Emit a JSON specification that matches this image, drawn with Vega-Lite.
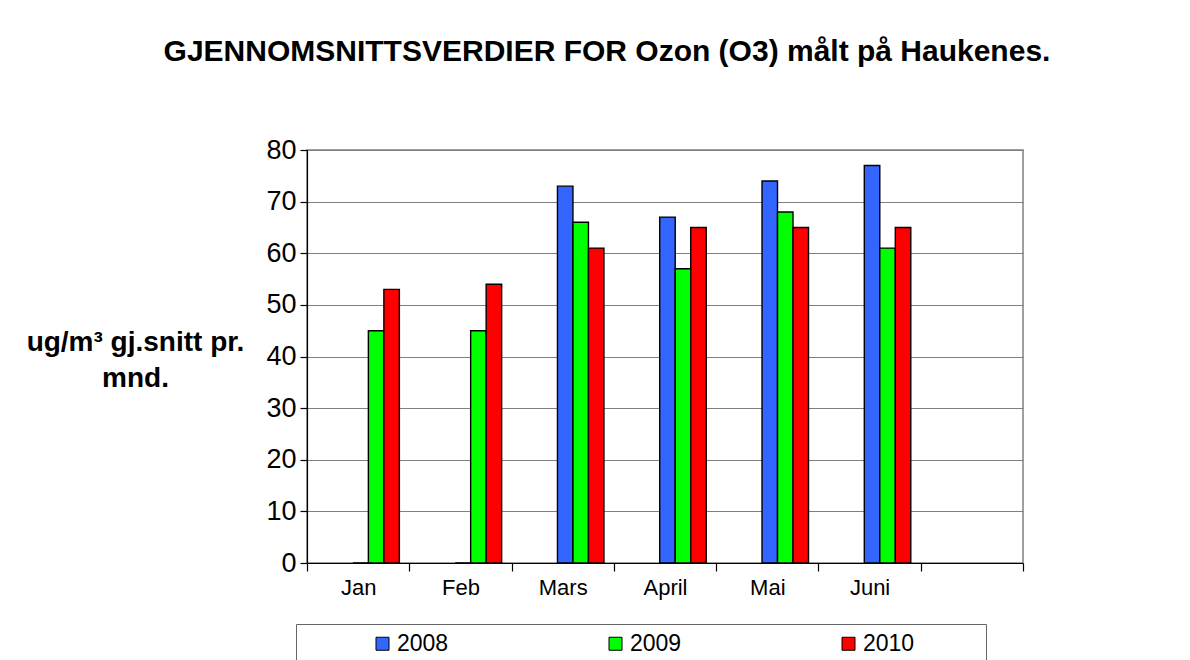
{
  "$schema": "https://vega.github.io/schema/vega-lite/v6.json",
  "width": 716,
  "height": 413,
  "autosize": {"type": "none"},
  "padding": {"left": 307, "top": 150, "right": 167, "bottom": 97},
  "background": "white",
  "config": {
    "font": "Liberation Sans",
    "view": {"stroke": "#808080", "strokeWidth": 1.5}
  },
  "title": {
    "text": "GJENNOMSNITTSVERDIER FOR Ozon (O3) målt på Haukenes.",
    "fontSize": 30,
    "fontWeight": "bold",
    "font": "Liberation Sans",
    "color": "black",
    "anchor": "middle",
    "frame": "group",
    "dx": -58,
    "offset": 69
  },
  "data": {
    "values": [
      {"month": "Jan", "year": "2008", "value": 0},
      {"month": "Jan", "year": "2009", "value": 45},
      {"month": "Jan", "year": "2010", "value": 53},
      {"month": "Feb", "year": "2008", "value": 0},
      {"month": "Feb", "year": "2009", "value": 45},
      {"month": "Feb", "year": "2010", "value": 54},
      {"month": "Mars", "year": "2008", "value": 73},
      {"month": "Mars", "year": "2009", "value": 66},
      {"month": "Mars", "year": "2010", "value": 61},
      {"month": "April", "year": "2008", "value": 67},
      {"month": "April", "year": "2009", "value": 57},
      {"month": "April", "year": "2010", "value": 65},
      {"month": "Mai", "year": "2008", "value": 74},
      {"month": "Mai", "year": "2009", "value": 68},
      {"month": "Mai", "year": "2010", "value": 65},
      {"month": "Juni", "year": "2008", "value": 77},
      {"month": "Juni", "year": "2009", "value": 61},
      {"month": "Juni", "year": "2010", "value": 65}
    ]
  },
  "mark": {"type": "bar", "stroke": "black", "strokeWidth": 1.4},
  "encoding": {
    "x": {
      "field": "month",
      "type": "nominal",
      "sort": null,
      "scale": {
        "domain": ["Jan", "Feb", "Mars", "April", "Mai", "Juni", " "],
        "paddingInner": 0,
        "paddingOuter": 0
      },
      "axis": {
        "title": null,
        "labelAngle": 0,
        "labelFontSize": 22,
        "labelColor": "black",
        "labelPadding": 6,
        "domainColor": "black",
        "domainWidth": 1.2,
        "tickColor": "black",
        "tickWidth": 1.2,
        "tickSize": 8,
        "tickBand": "extent",
        "grid": false
      }
    },
    "xOffset": {
      "field": "year",
      "type": "nominal",
      "scale": {
        "domain": ["_gap1", "_gap2", "2008", "2009", "2010"],
        "paddingInner": 0,
        "paddingOuter": 0.8,
        "align": 0.6
      }
    },
    "y": {
      "field": "value",
      "type": "quantitative",
      "scale": {"domain": [0, 80], "nice": false},
      "axis": {
        "values": [0, 10, 20, 30, 40, 50, 60, 70, 80],
        "labelFontSize": 27,
        "labelColor": "black",
        "labelPadding": 4,
        "domainColor": "black",
        "domainWidth": 1.2,
        "tickColor": "black",
        "tickWidth": 1.2,
        "tickSize": 7,
        "grid": true,
        "gridColor": "#808080",
        "gridWidth": 1.2,
        "title": ["ug/m³ gj.snitt pr.", "mnd."],
        "titleAngle": 0,
        "titleAlign": "center",
        "titleBaseline": "alphabetic",
        "titleFontSize": 28,
        "titleFontWeight": "bold",
        "titleColor": "black",
        "titleLineHeight": 36,
        "titleX": -172,
        "titleY": 200
      }
    },
    "color": {
      "field": "year",
      "type": "nominal",
      "scale": {
        "domain": ["2008", "2009", "2010"],
        "range": ["#3366FF", "#00FF00", "#FF0000"]
      },
      "legend": {
        "orient": "none",
        "legendX": -11,
        "legendY": 474,
        "direction": "horizontal",
        "columns": 3,
        "title": " ",
        "titleOrient": "left",
        "titleFontSize": 1,
        "titlePadding": 67,
        "symbolType": "square",
        "symbolSize": 169,
        "symbolStrokeColor": "black",
        "symbolStrokeWidth": 1,
        "labelFontSize": 23,
        "labelColor": "black",
        "labelOffset": 3,
        "labelExpr": "datum.value == '2010' ? '2010\u2003\u2003\u2002\u2005\u200b' : datum.label",
        "columnPadding": 155,
        "padding": 8,
        "strokeColor": "#666666",
        "fillColor": "white"
      }
    }
  }
}
